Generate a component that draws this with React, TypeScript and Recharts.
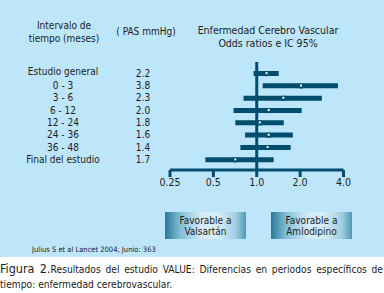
import React from "react";
import { Bar, ComposedChart, Line, ReferenceLine, XAxis, YAxis } from "recharts";

// Intervalos de tiempo y diferencia de PAS (mmHg)
const periods = [
  "Estudio general",
  "0 - 3",
  "3 - 6",
  "6 - 12",
  "12 - 24",
  "24 - 36",
  "36 - 48",
  "Final del estudio",
];
const pasDiff = ["2.2", "3.8", "2.3", "2.0", "1.8", "1.6", "1.4", "1.7"];

// Odds ratios e IC 95%
const oddsRatio = [1.17, 2.03, 1.53, 1.21, 1.05, 1.21, 1.19, 0.71];
const ciLow = [0.95, 1.1, 0.81, 0.69, 0.71, 0.83, 0.77, 0.44];
const ciHigh = [1.42, 3.66, 2.83, 2.05, 1.54, 1.78, 1.72, 1.31];

const xTicks = [0.25, 0.5, 1, 2, 4];
const xTickLabels = ["0.25", "0.5", "1.0", "2.0", "4.0"];

const rows = periods.map((p, i) => ({
  period: p,
  or: oddsRatio[i],
  ci: [ciLow[i], ciHigh[i]],
}));

const FONT = '"DejaVu Sans Condensed", "Liberation Sans Narrow", Lato, sans-serif';
const INK = "#1c1c1c";
const TEAL = "#004d6e";
const PANEL = "#bee6fa";

const PeriodTick = (props: any) => {
  const { y, payload, index } = props;
  return (
    <g fontFamily={FONT} fontSize={10} fill={INK}>
      <text x={63} y={index === 0 ? y - 2 : y} textAnchor="middle" dominantBaseline="central">
        {payload.value}
      </text>
      <text x={143} y={y} textAnchor="middle" dominantBaseline="central">
        {pasDiff[index]}
      </text>
    </g>
  );
};

const OrDot = (props: any) => {
  const { cx, cy, index } = props;
  if (cx == null || cy == null) return null;
  return (
    <g key={`dot-${index}`}>
      <rect x={cx - 2} y={cy - 2} width={4} height={5} fill={TEAL} />
      <rect x={cx - 1} y={cy - 1} width={2} height={2} fill="#ffffff" />
    </g>
  );
};

const boxStyle: React.CSSProperties = {
  position: "absolute",
  top: 212,
  width: 81,
  height: 27,
  background:
    "linear-gradient(90deg, #2a7896 0%, #7fbcd4 18%, #d3ebf6 45%, #d6edf7 65%, #9fcde0 88%, #4f98b4 100%)",
  display: "flex",
  alignItems: "center",
  justifyContent: "center",
  textAlign: "center",
  fontSize: 10,
  lineHeight: "11px",
  color: INK,
};

const centered = (x: number, y: number, size = 10.5): React.CSSProperties => ({
  position: "absolute",
  left: x - 100,
  top: y,
  width: 200,
  textAlign: "center",
  fontSize: size,
  lineHeight: "12.5px",
  color: INK,
  whiteSpace: "nowrap",
});

export default function App() {
  return (
    <div
      style={{
        position: "absolute",
        left: 0,
        top: 0,
        width: 384,
        height: 293,
        background: "#ffffff",
        fontFamily: FONT,
        overflow: "hidden",
      }}
    >
      <div style={{ position: "absolute", left: 0, top: 0, width: 384, height: 257, background: PANEL }} />

      <div style={centered(64, 20, 10)}>
        Intervalo de
        <br />
        tiempo (meses)
      </div>
      <div style={centered(146, 26, 10)}>( PAS mmHg)</div>
      <div style={centered(268, 24)}>
        Enfermedad Cerebro Vascular
        <br />
        Odds ratios e IC 95%
      </div>

      <div style={{ position: "absolute", left: 0, top: 0 }}>
        <ComposedChart
          width={384}
          height={257}
          layout="vertical"
          data={rows}
          margin={{ top: 62, right: 40.5, bottom: 57, left: 0 }}
        >
          <XAxis
            type="number"
            scale="log"
            domain={[0.25, 4]}
            ticks={xTicks}
            allowDataOverflow
            height={30}
            axisLine={{ stroke: TEAL, strokeWidth: 3 }}
            tickLine={{ stroke: TEAL, strokeWidth: 3 }}
            tickSize={7}
            tick={{ fill: INK, fontSize: 10.5, fontFamily: FONT }}
            tickFormatter={(v: number) => xTickLabels[xTicks.indexOf(v)] ?? String(v)}
          />
          <YAxis
            type="category"
            dataKey="period"
            width={170}
            axisLine={false}
            tickLine={false}
            padding={{ top: 5, bottom: 4.5 }}
            tick={<PeriodTick />}
            interval={0}
          />
          <ReferenceLine x={1} stroke={TEAL} strokeWidth={3} />
          <Bar dataKey="ci" fill={TEAL} barSize={5} isAnimationActive={false} />
          <Line
            dataKey="or"
            stroke="none"
            dot={<OrDot />}
            activeDot={false}
            isAnimationActive={false}
          />
        </ComposedChart>
      </div>

      <div style={{ ...boxStyle, left: 165 }}>
        Favorable a
        <br />
        Valsartán
      </div>
      <div style={{ ...boxStyle, left: 271 }}>
        Favorable a
        <br />
        Amlodipino
      </div>

      <div style={{ position: "absolute", left: 32, top: 245, fontSize: 7.5, color: INK, whiteSpace: "nowrap" }}>
        Julius S et al Lancet 2004; Junio: 363
      </div>

      <div
        style={{
          position: "absolute",
          left: 0,
          top: 261,
          width: 383,
          fontSize: 10.2,
          lineHeight: "15px",
          color: INK,
        }}
      >
        <div style={{ textAlign: "justify", textAlignLast: "justify", whiteSpace: "nowrap" }}>
          <span style={{ fontSize: 12.5 }}>Figura 2.</span>
          Resultados del estudio VALUE: Diferencias en periodos específicos de
        </div>
        <div>tiempo: enfermedad cerebrovascular.</div>
      </div>
    </div>
  );
}
